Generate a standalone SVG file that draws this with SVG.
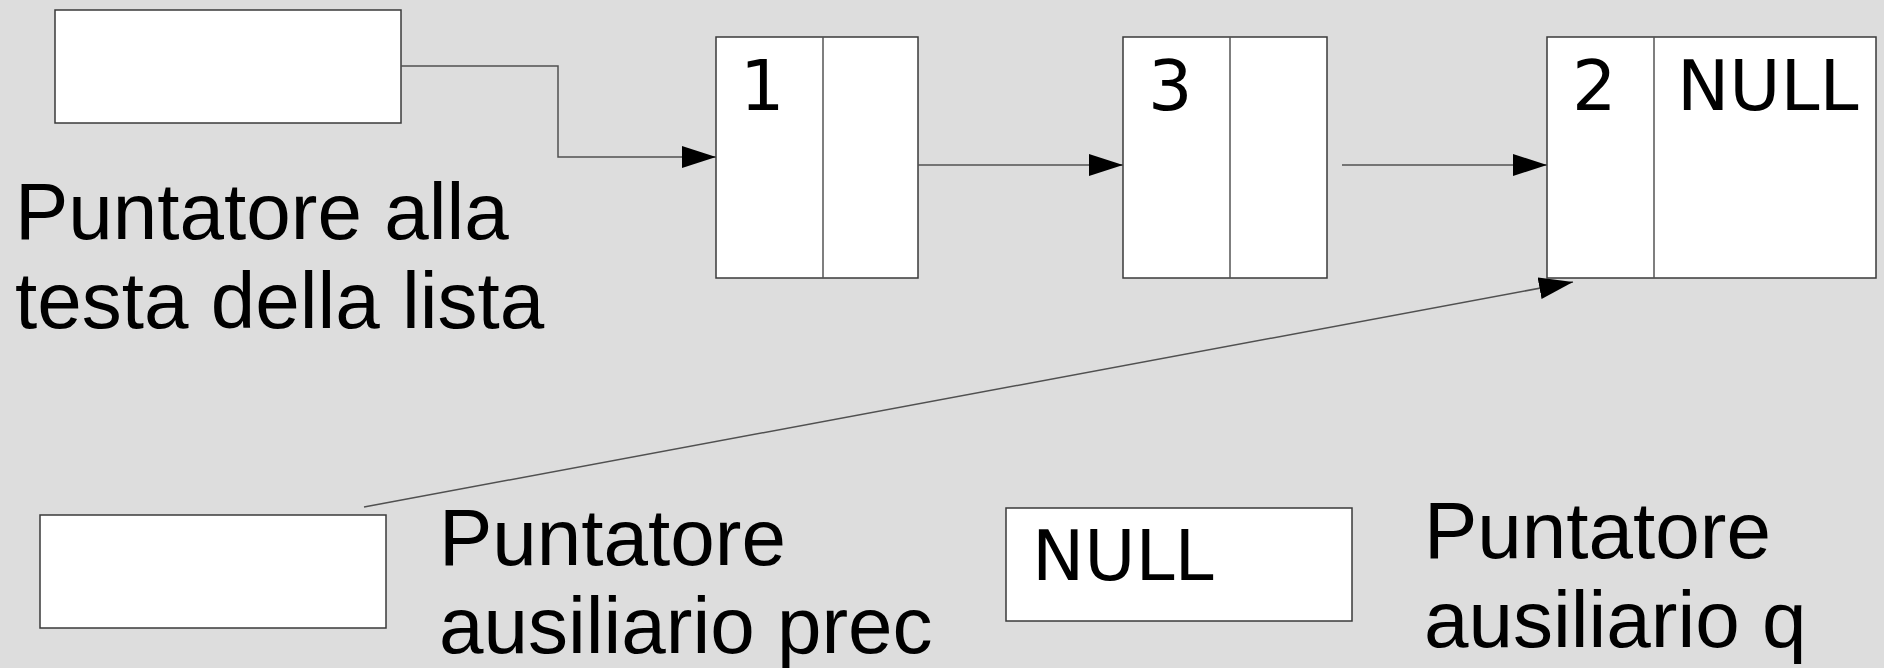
<svg xmlns="http://www.w3.org/2000/svg" width="1884" height="668" viewBox="0 0 1884 668">
<style>
.box{fill:#ffffff;stroke:#3a3a3a;stroke-width:1.5}
.div{stroke:#555555;stroke-width:1.5;fill:none}
.lbl{font-family:"Liberation Sans",Arial,sans-serif;font-size:80px;fill:#000000}
.val{font-family:"DejaVu Sans",sans-serif;font-size:70px;fill:#000000}
.conn{fill:none;stroke:#505050;stroke-width:1.5}
</style>
<defs>
<marker id="arr" markerUnits="userSpaceOnUse" markerWidth="35" markerHeight="23" refX="34" refY="11" orient="auto">
<path d="M0,0 L34,11 L0,22 Z" fill="#000000"/>
</marker>
</defs>
<rect width="1884" height="668" fill="#dddddd"/>
<g id="head">
<rect class="box" x="55" y="10" width="346" height="113"/>
<text class="lbl" x="15" y="239">Puntatore alla</text>
<text class="lbl" x="15" y="328">testa della lista</text>
</g>
<g id="node1">
<rect class="box" x="716" y="37" width="202" height="241"/>
<line class="div" x1="823" y1="37" x2="823" y2="278"/>
<text class="val" x="740" y="110">1</text>
</g>
<g id="node3">
<rect class="box" x="1123" y="37" width="204" height="241"/>
<line class="div" x1="1230" y1="37" x2="1230" y2="278"/>
<text class="val" x="1148" y="110">3</text>
</g>
<g id="node2">
<rect class="box" x="1547" y="37" width="329" height="241"/>
<line class="div" x1="1654" y1="37" x2="1654" y2="278"/>
<text class="val" x="1572" y="110">2</text>
<text class="val" x="1677" y="110">NULL</text>
</g>
<g id="prec">
<rect class="box" x="40" y="515" width="346" height="113"/>
<text class="lbl" x="439" y="565">Puntatore</text>
<text class="lbl" x="439" y="653">ausiliario prec</text>
</g>
<g id="q">
<rect class="box" x="1006" y="508" width="346" height="113"/>
<text class="val" x="1032" y="580">NULL</text>
<text class="lbl" x="1424" y="558">Puntatore</text>
<text class="lbl" x="1424" y="647">ausiliario q</text>
</g>
<g id="connectors">
<polyline class="conn" points="401,66 558,66 558,157 716,157" marker-end="url(#arr)"/>
<line class="conn" x1="918" y1="165" x2="1123" y2="165" marker-end="url(#arr)"/>
<line class="conn" x1="1342" y1="165" x2="1547" y2="165" marker-end="url(#arr)"/>
<line class="conn" x1="364" y1="507" x2="1573" y2="282" stroke="#222222" marker-end="url(#arr)"/>
</g>
</svg>
